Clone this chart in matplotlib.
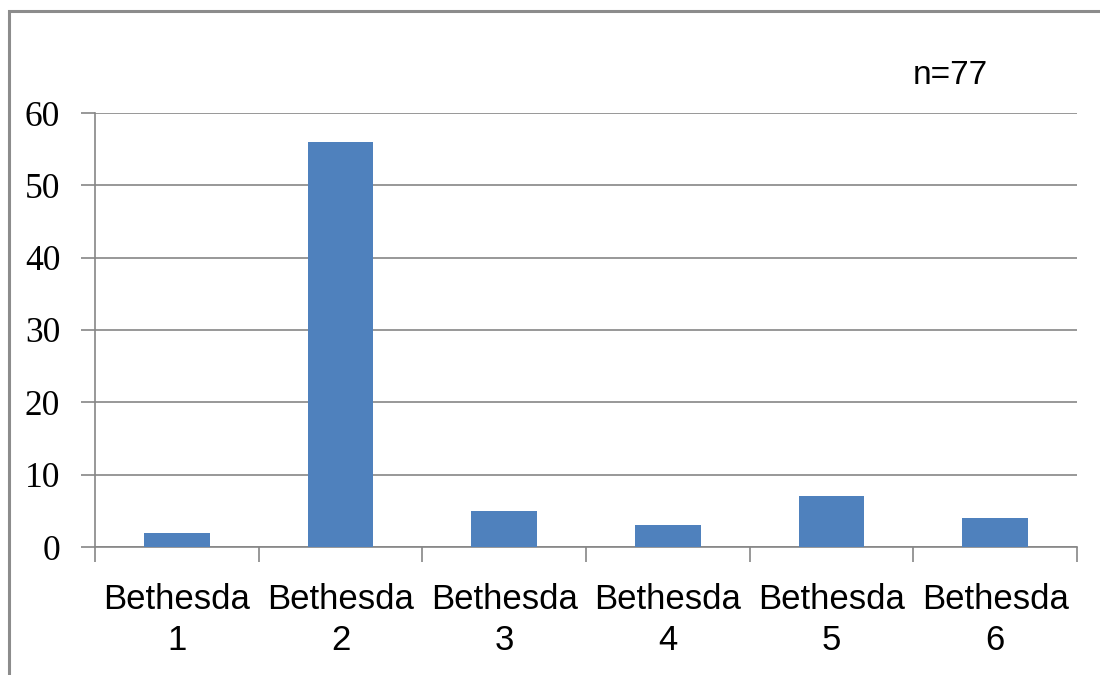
import matplotlib.pyplot as plt
from matplotlib.patches import Rectangle

# Counts per Bethesda category
categories = ['Bethesda\n1', 'Bethesda\n2', 'Bethesda\n3', 'Bethesda\n4', 'Bethesda\n5', 'Bethesda\n6']
counts = [2, 56, 5, 3, 7, 4]
n_label = 'n=77'
yticks = [0, 10, 20, 30, 40, 50, 60]

grid_color = '#868686'
bar_color = '#4F81BD'

fig = plt.figure(figsize=(11, 6.75), dpi=100)
ax = fig.add_axes([95 / 1100, 1 - 547 / 675, (1077 - 95) / 1100, (547 - 113) / 675])

x = list(range(len(categories)))
ax.bar(x, counts, width=0.40, color=bar_color, zorder=3)

ax.set_xlim(-0.5, len(categories) - 0.5)
ax.set_ylim(0, 60)
ax.set_yticks(yticks)
ax.set_yticklabels([str(v) for v in yticks], family='Liberation Serif', fontsize=25.5)
ax.yaxis.grid(True, color=grid_color, linewidth=1.2, zorder=0)

# category labels centred, ticks on the boundaries
ax.set_xticks(x)
ax.set_xticklabels(categories, family='Liberation Sans', fontsize=25, linespacing=1.3)
ax.tick_params(axis='x', length=0, pad=26)
ax.set_xticks([i - 0.5 for i in range(len(categories) + 1)], minor=True)
ax.tick_params(axis='x', which='minor', length=11, width=1.2, color=grid_color, direction='out')
ax.tick_params(axis='y', length=10, width=1.2, color=grid_color, direction='out', pad=15)

for side in ['top', 'right']:
    ax.spines[side].set_visible(False)
for side in ['left', 'bottom']:
    ax.spines[side].set_color(grid_color)
    ax.spines[side].set_linewidth(1.2)

fig.text(950 / 1100, 1 - 75 / 675, n_label, family='Liberation Sans', fontsize=24,
         ha='center', va='center')

# outer chart frame (right and bottom edges fall off the canvas)
fig.patches.append(Rectangle((9 / 1100, -0.1), 1.2, 1 - 11 / 675 + 0.1, transform=fig.transFigure,
                             fill=False, edgecolor='#8c8c8c', linewidth=2.2))

fig.savefig('out.png', dpi=100)
